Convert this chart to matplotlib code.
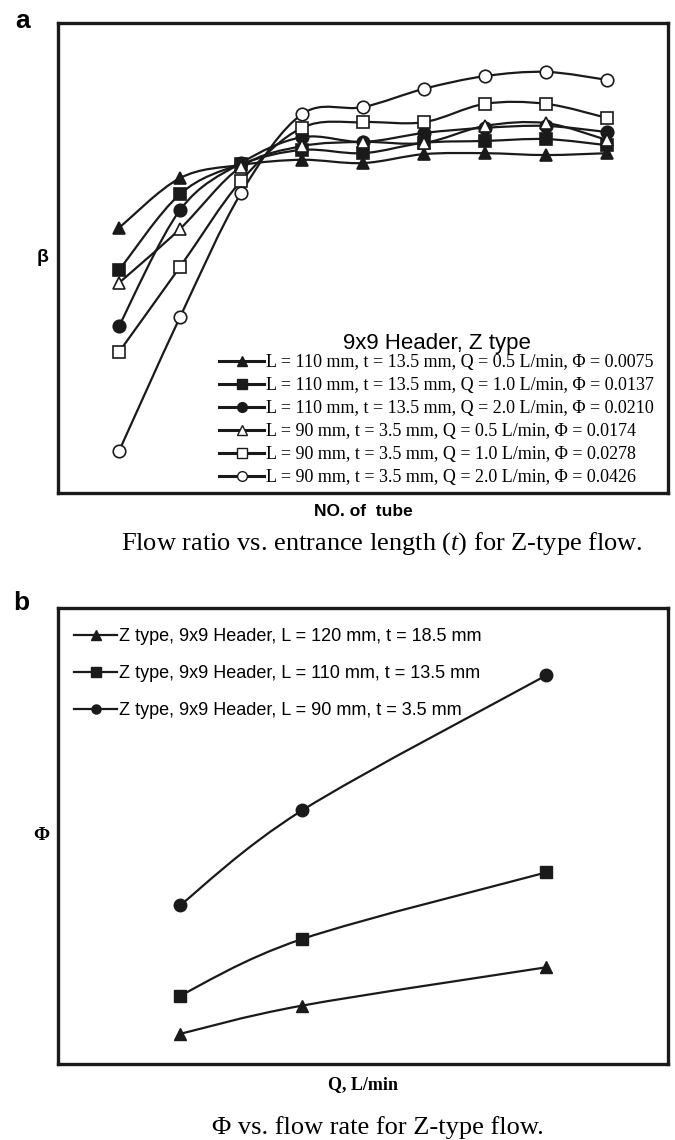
import matplotlib
matplotlib.use("Agg")
import matplotlib.pyplot as plt
import numpy as np
from matplotlib.path import Path
from matplotlib.patches import PathPatch
from matplotlib.lines import Line2D

plt.rcParams['mathtext.fontset'] = 'custom'
plt.rcParams['mathtext.rm'] = 'Liberation Serif'
plt.rcParams['mathtext.it'] = 'Liberation Serif:italic'

# ---------------- data: panel a ----------------
tubes = [1, 2, 3, 4, 5, 6, 7, 8, 9]
beta_110_q05 = [0.564, 0.670, 0.698, 0.709, 0.702, 0.721, 0.723, 0.719, 0.723]
beta_110_q10 = [0.474, 0.636, 0.700, 0.730, 0.723, 0.745, 0.749, 0.753, 0.740]
beta_110_q20 = [0.355, 0.602, 0.702, 0.757, 0.747, 0.766, 0.777, 0.781, 0.768]
beta_90_q05 = [0.447, 0.562, 0.694, 0.738, 0.747, 0.745, 0.781, 0.787, 0.751]
beta_90_q10 = [0.300, 0.481, 0.664, 0.777, 0.789, 0.789, 0.828, 0.828, 0.798]
beta_90_q20 = [0.089, 0.374, 0.638, 0.806, 0.821, 0.860, 0.887, 0.896, 0.879]
labels_a = [
    "L = 110 mm, t = 13.5 mm, Q = 0.5 L/min, \u03a6 = 0.0075",
    "L = 110 mm, t = 13.5 mm, Q = 1.0 L/min, \u03a6 = 0.0137",
    "L = 110 mm, t = 13.5 mm, Q = 2.0 L/min, \u03a6 = 0.0210",
    "L = 90 mm, t = 3.5 mm, Q = 0.5 L/min, \u03a6 = 0.0174",
    "L = 90 mm, t = 3.5 mm, Q = 1.0 L/min, \u03a6 = 0.0278",
    "L = 90 mm, t = 3.5 mm, Q = 2.0 L/min, \u03a6 = 0.0426",
]

# ---------------- data: panel b ----------------
flow_q = [0.5, 1.0, 2.0]
phi_120 = [0.0033, 0.0064, 0.0106]
phi_110 = [0.0075, 0.0137, 0.0210]
phi_90 = [0.0174, 0.0278, 0.0426]
labels_b = [
    "Z type, 9x9 Header, L = 120 mm, t = 18.5 mm",
    "Z type, 9x9 Header, L = 110 mm, t = 13.5 mm",
    "Z type, 9x9 Header, L = 90 mm, t = 3.5 mm",
]


def smooth_path(x, y):
    """Catmull-Rom style smooth curve through the points as a cubic Bezier path."""
    p = np.column_stack([x, y]).astype(float)
    n = len(p)
    verts = [p[0]]
    codes = [Path.MOVETO]
    for i in range(n - 1):
        p0 = p[i - 1] if i > 0 else p[i]
        p1 = p[i]
        p2 = p[i + 1]
        p3 = p[i + 2] if i + 2 < n else p[i + 1]
        c1 = p1 + (p2 - p0) / 6.0
        c2 = p2 - (p3 - p1) / 6.0
        verts += [c1, c2, p2]
        codes += [Path.CURVE4] * 3
    return Path(verts, codes)


fig = plt.figure(figsize=(6.75, 11.4), dpi=100)
W, H = 675, 1140

def axes_px(l, t, r, b):
    return fig.add_axes([l / W, 1 - b / H, (r - l) / W, (b - t) / H])

LW = 1.6
MS = 9
INK = '#1a1a1a'

# ---------------- panel a ----------------
ax1 = axes_px(58, 23, 668, 493)
series_a = [beta_110_q05, beta_110_q10, beta_110_q20, beta_90_q05, beta_90_q10, beta_90_q20]
styles_a = [('^', INK), ('s', INK), ('o', INK),
            ('^', 'white'), ('s', 'white'), ('o', 'white')]
handles_a = []
for vals, (m, fc), lab in zip(series_a, styles_a, labels_a):
    ax1.add_patch(PathPatch(smooth_path(tubes, vals), facecolor='none',
                            edgecolor=INK, lw=LW, zorder=2))
for vals, (m, fc), lab in zip(series_a, styles_a, labels_a):
    ax1.plot(tubes, vals, linestyle='none', marker=m, ms=MS, mfc=fc,
             mec=INK, mew=1.2, zorder=3)
    handles_a.append(Line2D([], [], color=INK, lw=2.2, marker=m,
                            ms=7, mfc=fc, mec=INK, mew=1.0))
ax1.set_xlim(0, 10)
ax1.set_ylim(0, 1)
ax1.set_xticks([])
ax1.set_yticks([])
for s in ax1.spines.values():
    s.set_linewidth(2.4)
    s.set_color(INK)
leg = ax1.legend(handles_a, labels_a, loc='lower right',
                 bbox_to_anchor=(0.998, -0.012), frameon=False,
                 prop={'family': 'Liberation Serif', 'size': 13},
                 title="9x9 Header, Z type",
                 title_fontproperties={'family': 'Liberation Sans', 'size': 16},
                 handlelength=2.5, handletextpad=0.12, labelspacing=0.33,
                 borderpad=0.2)
leg._legend_box.sep = 0
ax1.set_xlabel("NO. of  tube", fontfamily='Liberation Sans', fontweight='bold',
               fontsize=12.5, labelpad=8)
ax1.set_ylabel("\u03b2", fontfamily='Liberation Sans', fontweight='bold',
               fontsize=14, rotation=0, labelpad=11, va='center')
fig.text(15 / W, 1 - 21 / H, "a", fontfamily='Liberation Sans', fontweight='bold',
         fontsize=19, ha='left', va='center')
fig.text(382 / W, 1 - 544 / H,
         r"Flow ratio vs. entrance length ($\mathit{t}$) for Z-type flow.",
         fontfamily='Liberation Serif', fontsize=19, ha='center', va='center')

# ---------------- panel b ----------------
ax2 = axes_px(58, 608, 668, 1064)
series_b = [phi_120, phi_110, phi_90]
markers_b = ['^', 's', 'o']
handles_b = []
for vals, m in zip(series_b, markers_b):
    ax2.add_patch(PathPatch(smooth_path(flow_q, vals), facecolor='none',
                            edgecolor=INK, lw=LW, zorder=2))
    ax2.plot(flow_q, vals, linestyle='none', marker=m, ms=MS, mfc=INK,
             mec=INK, zorder=3)
    handles_b.append(Line2D([], [], color=INK, lw=1.6, marker=m, ms=6.5,
                            mfc=INK, mec=INK))
ax2.set_xlim(0, 2.5)
ax2.set_ylim(0, 0.05)
ax2.set_xticks([])
ax2.set_yticks([])
for s in ax2.spines.values():
    s.set_linewidth(2.4)
    s.set_color(INK)
ax2.legend(handles_b, labels_b, loc='upper left', bbox_to_anchor=(0.006, 0.984),
           frameon=False, prop={'family': 'Liberation Sans', 'size': 13},
           handlelength=2.38, handletextpad=0.1, labelspacing=1.12, borderpad=0.2)
ax2.set_xlabel("Q, L/min", fontfamily='Liberation Serif', fontweight='bold',
               fontsize=13, labelpad=9)
ax2.set_ylabel("\u03a6", fontfamily='Liberation Serif', fontweight='bold',
               fontsize=14, rotation=0, labelpad=12, va='center')
fig.text(13 / W, 1 - 603 / H, "b", fontfamily='Liberation Sans', fontweight='bold',
         fontsize=19, ha='left', va='center')
fig.text(378 / W, 1 - 1128 / H, "\u03a6 vs. flow rate for Z-type flow.",
         fontfamily='Liberation Serif', fontsize=19, ha='center', va='center')

fig.savefig("out.png", dpi=100)
